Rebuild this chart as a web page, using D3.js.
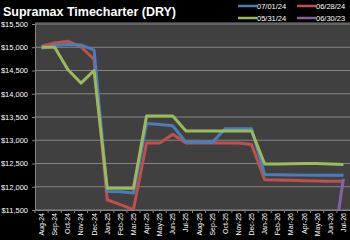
<!DOCTYPE html>
<html>
<head>
<script src="https://cdn.jsdelivr.net/npm/d3@7"></script>
<style>
  body { margin: 0; background: #000; }
  text { font-family: "Liberation Sans", Arial, sans-serif; fill: #fff; }
</style>
</head>
<body>
<div id="chart"></div>
<script>
// months along the x axis
var months = ["Aug-24","Sep-24","Oct-24","Nov-24","Dec-24","Jan-25","Feb-25","Mar-25",
  "Apr-25","May-25","Jun-25","Jul-25","Aug-25","Sep-25","Oct-25","Nov-25","Dec-25",
  "Jan-26","Feb-26","Mar-26","Apr-26","May-26","Jun-26","Jul-26"];

var yTicks = [11500, 12000, 12500, 13000, 13500, 14000, 14500, 15000, 15500];

// curve values ($/day)
var jul0124 = [14980,15040,15060,15050,14940,11900,11890,11865,13360,13340,13310,12960,
  12950,12950,13250,13250,13250,12265,12260,12255,12250,12250,12250,12250];
var jun2824 = [15020,15090,15130,15010,14740,11720,11615,11510,12940,12940,13130,12940,
  12940,12940,12940,12940,12910,12150,12145,12140,12130,12125,12120,12120];
var may3124 = [15000,15000,14520,14230,14500,11970,11970,11970,13520,13520,13520,13200,
  13200,13200,13200,13200,13200,12490,12490,12495,12500,12500,12490,12480];
var jun3023 = [null,null,null,null,null,null,null,null,null,null,null,null,
  null,null,null,null,null,null,null,null,null,null,10300,12170];

var seriesNames = ["07/01/24", "06/28/24", "05/31/24", "06/30/23"];
var seriesColors = ["#4a7ebb", "#c0504d", "#9bbb59", "#8064a2"];
var seriesData = [jul0124, jun2824, may3124, jun3023];

var W = 350, H = 240;
var m = {left: 35, right: 350, top: 24, bottom: 210};

var svg = d3.select("#chart").append("svg")
  .attr("width", W).attr("height", H);

svg.append("rect").attr("width", W).attr("height", H).attr("fill", "#000");

var x = d3.scaleBand().domain(months).range([m.left, m.right]);
var y = d3.scaleLinear().domain([11500, 15500]).range([m.bottom, m.top]);

// plot area
svg.append("rect")
  .attr("x", m.left).attr("y", m.top - 2)
  .attr("width", m.right - m.left).attr("height", m.bottom - m.top + 2)
  .attr("fill", "#404040");

// gridlines
svg.append("g").selectAll("line")
  .data(yTicks)
  .enter().append("line")
    .attr("x1", m.left).attr("x2", m.right)
    .attr("y1", d => y(d)).attr("y2", d => y(d))
    .attr("stroke", "#858585").attr("stroke-width", 1);

// y axis
var yAxis = svg.append("g")
  .attr("transform", "translate(" + m.left + ",0)")
  .call(d3.axisLeft(y).tickValues(yTicks).tickSize(3).tickFormat(d => "$" + d3.format(",")(d)));
yAxis.select(".domain").attr("stroke", "#858585");
yAxis.selectAll(".tick line").attr("stroke", "#858585");
yAxis.selectAll(".tick text")
  .attr("x", -7)
  .style("font-size", "7.5px").style("fill", "#fff");

// x axis
var xAxis = svg.append("g")
  .attr("transform", "translate(0," + m.bottom + ")")
  .call(d3.axisBottom(x).tickSize(0));
xAxis.select(".domain").attr("stroke", "#858585");
xAxis.selectAll(".tick text")
  .attr("transform", "rotate(-90)")
  .attr("x", -3).attr("y", 0).attr("dy", "0.35em")
  .style("text-anchor", "end")
  .style("font-size", "7px").style("fill", "#fff");

// tick marks between categories
svg.append("g").selectAll("line")
  .data(months)
  .enter().append("line")
    .attr("x1", d => x(d)).attr("x2", d => x(d))
    .attr("y1", m.bottom).attr("y2", m.bottom + 3)
    .attr("stroke", "#858585");

// clip
svg.append("clipPath").attr("id", "clip")
  .append("rect").attr("x", m.left).attr("y", m.top - 2)
  .attr("width", m.right - m.left).attr("height", m.bottom - m.top + 2);

var line = d3.line()
  .defined(d => d != null)
  .x((d, i) => x(months[i]) + x.bandwidth() / 2)
  .y(d => y(d));

var drawOrder = [1, 0, 2, 3];
svg.append("g").attr("clip-path", "url(#clip)")
  .selectAll("path")
  .data(drawOrder)
  .enter().append("path")
    .attr("d", k => line(seriesData[k]))
    .attr("fill", "none")
    .attr("stroke", k => seriesColors[k])
    .attr("stroke-width", 3)
    .attr("stroke-linejoin", "round");

// title
svg.append("text")
  .attr("x", 3).attr("y", 16)
  .style("font-size", "12.5px").style("font-weight", "bold")
  .text("Supramax Timecharter (DRY)");

// legend
var legX = [238, 297], legY = [6, 18];
var leg = svg.append("g").selectAll("g")
  .data(seriesNames)
  .enter().append("g")
    .attr("transform", (d, i) => "translate(" + legX[i % 2] + "," + legY[Math.floor(i / 2)] + ")");
leg.append("line")
  .attr("x1", 0).attr("x2", 19)
  .attr("stroke", (d, i) => seriesColors[i]).attr("stroke-width", 2.5);
leg.append("text")
  .attr("x", 19).attr("dy", "0.35em")
  .style("font-size", "7.5px")
  .text(d => d);
</script>
</body>
</html>
